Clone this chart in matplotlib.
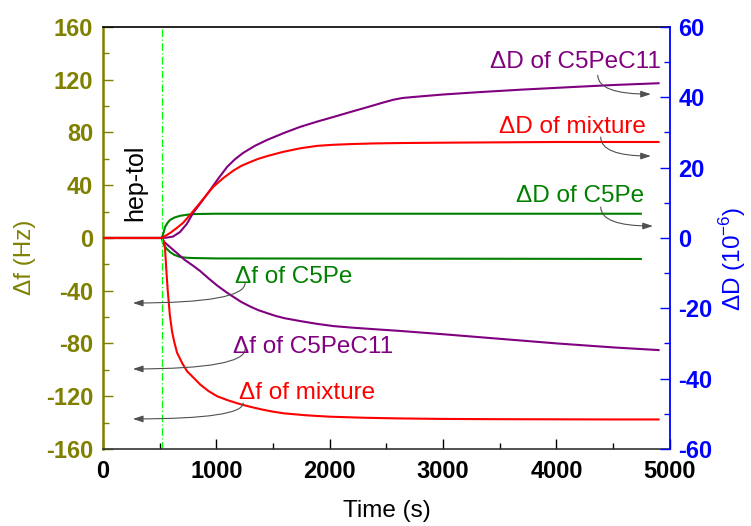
import matplotlib.pyplot as plt
from matplotlib.ticker import MultipleLocator

plt.rcParams['font.family'] = ['Liberation Sans', 'DejaVu Sans']
plt.rcParams['mathtext.fontset'] = 'custom'
plt.rcParams['mathtext.rm'] = 'Liberation Sans'
plt.rcParams['axes.unicode_minus'] = False

OLIVE = '#808000'
BLUE = '#0000FF'
PURPLE = '#800080'
RED = '#FF0000'
GREEN = '#008000'

# delta f (Hz), left axis
t_f_mix = [0, 520, 535, 548, 560, 572, 590, 610, 630, 654, 700, 742, 800, 857, 930, 1007,
           1100, 1210, 1300, 1400, 1500, 1600, 1800, 2000, 2300, 2600, 3000, 3500, 4000, 4500, 4900]
f_mix = [0, 0, -2, -8, -25, -40, -58, -71, -79, -87, -95, -101, -106, -111, -116, -120,
         -123, -126, -128, -130, -131.7, -133, -134.5, -135.5, -136.3, -136.8, -137.2, -137.4,
         -137.5, -137.6, -137.6]

t_f_c11 = [0, 520, 540, 580, 620, 654, 720, 795, 857, 930, 1007, 1095, 1148, 1220, 1300, 1370,
           1449, 1520, 1600, 1740, 1880, 2032, 2200, 2400, 2624, 3004, 3507, 4011, 4505, 4900]
f_c11 = [0, 0, -3, -6, -9, -11.5, -16.5, -21, -25, -30.5, -36, -41.5, -44.5, -48.5, -52, -54.7,
         -57, -59, -60.8, -63, -65, -66.8, -68, -69.2, -70.5, -73, -76.5, -80, -83, -85]

t_f_c5 = [0, 520, 530, 560, 592, 630, 680, 740, 795, 1000, 2000, 3000, 4000, 4744]
f_c5 = [0, 0, -3.8, -8, -10.6, -12.8, -14.4, -15, -15.2, -15.5, -15.6, -15.7, -15.8, -15.9]

# delta D (1e-6), right axis
t_d_c11 = [0, 520, 560, 618, 680, 740, 795, 870, 945, 1020, 1095, 1165, 1237, 1340, 1449,
           1600, 1740, 1890, 2032, 2180, 2332, 2470, 2560, 2640, 2740, 3000, 3330, 3700,
           4187, 4500, 4900]
d_c11 = [0, 0, 0.1, 0.4, 1.7, 4, 7.1, 10.3, 13.6, 17, 20.2, 22.4, 24.2, 26.2, 27.9,
         29.9, 31.6, 33.1, 34.4, 35.8, 37.2, 38.5, 39.3, 39.8, 40.1, 40.8, 41.5, 42.2,
         43, 43.5, 44]

t_d_mix = [0, 520, 545, 592, 650, 707, 780, 857, 920, 972, 1060, 1148, 1220, 1299, 1370, 1450,
           1590, 1740, 1890, 2030, 2182, 2400, 2624, 3000, 3500, 4000, 4500, 4900]
d_mix = [0, 0, 0.5, 1.4, 2.8, 4.3, 7, 10, 12.5, 14.5, 17, 19.1, 20.5, 21.6, 22.5, 23.3,
         24.5, 25.5, 26.2, 26.5, 26.7, 26.9, 27, 27.1, 27.2, 27.3, 27.3, 27.3]

t_d_c5 = [0, 520, 535, 548, 570, 592, 630, 680, 740, 795, 1000, 2000, 3000, 4000, 4744]
d_c5 = [0, 0, 1.5, 3.1, 4.3, 5.1, 5.8, 6.3, 6.6, 6.8, 6.9, 6.9, 6.9, 6.9, 6.9]

t_inject = 520

fig = plt.figure(figsize=(7.51, 5.26), dpi=100)
ax1 = fig.add_axes([0.137, 0.1464, 0.755, 0.8023])
ax2 = ax1.twinx()

ax1.plot(t_f_c5, f_c5, color=GREEN, lw=1.5)
ax1.plot(t_f_c11, f_c11, color=PURPLE, lw=1.5)
ax1.plot(t_f_mix, f_mix, color=RED, lw=1.5)
ax2.plot(t_d_c5, d_c5, color=GREEN, lw=1.5)
ax2.plot(t_d_c11, d_c11, color=PURPLE, lw=1.5)
ax2.plot(t_d_mix, d_mix, color=RED, lw=1.5)

ax1.axvline(t_inject, color='#00FF00', lw=0.9, linestyle=(0, (6, 2, 1, 2)))
ax1.text(283, 42, 'hep-tol', rotation=90, ha='center', va='center', fontsize=18)

ax1.set_xlim(0, 5000)
ax1.set_ylim(-160, 160)
ax2.set_ylim(-60, 60)

ax1.xaxis.set_major_locator(MultipleLocator(1000))
ax1.xaxis.set_minor_locator(MultipleLocator(500))
ax1.yaxis.set_major_locator(MultipleLocator(40))
ax1.yaxis.set_minor_locator(MultipleLocator(20))
ax2.yaxis.set_major_locator(MultipleLocator(20))
ax2.yaxis.set_minor_locator(MultipleLocator(10))

ax1.tick_params(axis='x', which='both', direction='in', top=False, pad=8,
                labelsize=17, colors='black')
ax1.tick_params(axis='x', which='major', length=7, width=1)
ax1.tick_params(axis='x', which='minor', length=4, width=1)
ax1.tick_params(axis='y', which='both', direction='in', right=False, pad=7,
                labelsize=17, colors=OLIVE, labelcolor=OLIVE)
ax1.tick_params(axis='y', which='major', length=7, width=1)
ax1.tick_params(axis='y', which='minor', length=4, width=1)
ax2.tick_params(axis='y', which='both', direction='in', pad=6,
                labelsize=17, colors=BLUE, labelcolor=BLUE)
ax2.tick_params(axis='y', which='major', length=7, width=1)
ax2.tick_params(axis='y', which='minor', length=4, width=1)
for lab in ax1.get_xticklabels() + ax1.get_yticklabels() + ax2.get_yticklabels():
    lab.set_fontweight('bold')

ax1.spines['right'].set_visible(False)
ax1.spines['left'].set_color(OLIVE)
ax1.spines['left'].set_linewidth(1.8)
ax1.spines['bottom'].set_color('#333333')
ax1.spines['bottom'].set_linewidth(1.2)
ax1.spines['top'].set_color('black')
ax1.spines['top'].set_linewidth(1.2)
for s in ['left', 'top', 'bottom']:
    ax2.spines[s].set_visible(False)
ax2.spines['right'].set_color(BLUE)
ax2.spines['right'].set_linewidth(1.3)

ax1.set_xlabel('Time (s)', fontsize=17.5)
ax1.xaxis.set_label_coords(0.5, -0.12)
ax1.set_ylabel('Δf (Hz)', fontsize=17.5, color=OLIVE)
ax1.yaxis.set_label_coords(-0.118, 0.455)
ax2.set_ylabel('ΔD (10$^{-6}$)', fontsize=17.5, color=BLUE)
ax2.yaxis.set_label_coords(1.083, 0.45)

arrow = dict(arrowstyle='-|>,head_length=0.6,head_width=0.2', color='#505050', lw=0.8,
             connectionstyle='angle3,angleA=90,angleB=0', shrinkA=0, shrinkB=0)

# delta f labels (point left)
ax1.annotate('', xy=(265, -49.3), xytext=(1254, -34.1), arrowprops=arrow)
ax1.text(1166, -29.6, 'Δf of C5Pe', color=GREEN, fontsize=17.5, ha='left', va='center')
ax1.annotate('', xy=(265, -99.3), xytext=(1254, -84.2), arrowprops=arrow)
ax1.text(1148, -82.4, 'Δf of C5PeC11', color=PURPLE, fontsize=17.5, ha='left', va='center')
ax1.annotate('', xy=(265, -137.2), xytext=(1237, -125.1), arrowprops=arrow)
ax1.text(1201, -117.3, 'Δf of mixture', color=RED, fontsize=17.5, ha='left', va='center')

# delta D labels (point right)
ax2.annotate('', xy=(4832, 40.9), xytext=(4364, 46.3), arrowprops=arrow)
ax2.text(4920, 50.0, 'ΔD of C5PeC11', color=PURPLE, fontsize=17.5, ha='right', va='center')
ax2.annotate('', xy=(4832, 23.3), xytext=(4390, 28.7), arrowprops=arrow)
ax2.text(4788, 31.6, 'ΔD of mixture', color=RED, fontsize=17.5, ha='right', va='center')
ax2.annotate('', xy=(4850, 3.4), xytext=(4390, 8.8), arrowprops=arrow)
ax2.text(4770, 12.0, 'ΔD of C5Pe', color=GREEN, fontsize=17.5, ha='right', va='center')

fig.savefig('out.png', dpi=100)
